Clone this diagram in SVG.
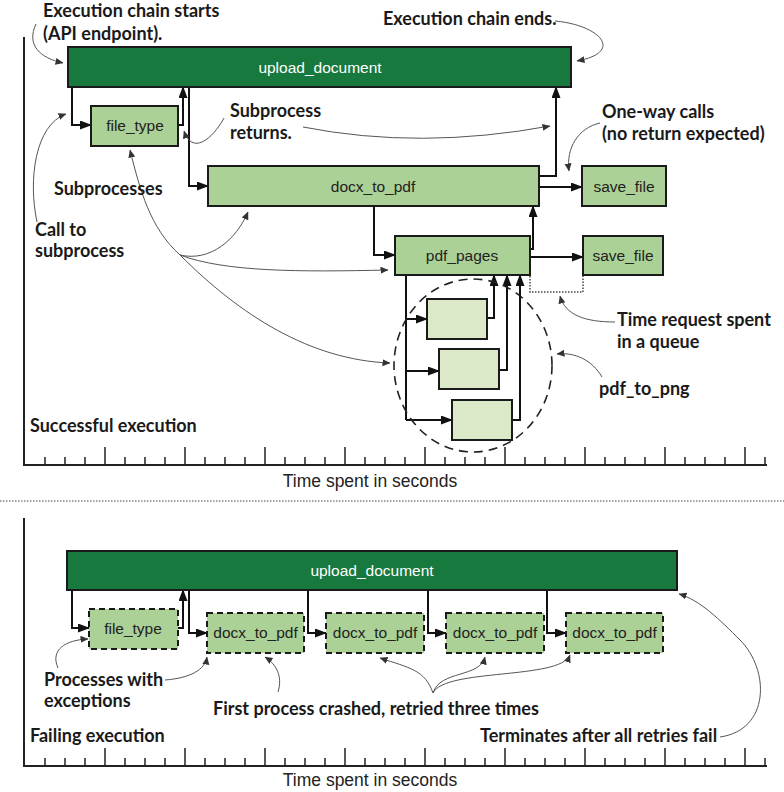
<svg xmlns="http://www.w3.org/2000/svg" xmlns:xlink="http://www.w3.org/1999/xlink" width="784" height="792" viewBox="0 0 784 792">
<style>
.dark{fill:#17793d;stroke:#1a1a1a;stroke-width:2}
.mid{fill:#acd196;stroke:#1a1a1a;stroke-width:2}
.light{fill:#dce9c9;stroke:#1a1a1a;stroke-width:2}
.dash{stroke-dasharray:6 4}
.lbl{font-family:"Liberation Sans",Arial,sans-serif;font-size:15.5px;fill:#222;text-anchor:middle}
.wlbl{font-family:"Liberation Sans",Arial,sans-serif;font-size:15.5px;fill:#fff;text-anchor:middle}
.ann{font-family:Lato,"Open Sans",sans-serif;font-weight:bold;font-size:18px;fill:#1a1a1a}
.axt{font-family:"Liberation Sans",Arial,sans-serif;font-size:17.5px;fill:#222;text-anchor:middle}
.con{fill:none;stroke:#111;stroke-width:2;marker-end:url(#arr)}
.line{fill:none;stroke:#111;stroke-width:2}
.note{fill:none;stroke:#555;stroke-width:1;marker-end:url(#arrs)}
.axis{fill:none;stroke:#222;stroke-width:2}
</style>
<defs>
<marker id="arr" markerUnits="userSpaceOnUse" markerWidth="12" markerHeight="10" refX="11" refY="4.5" orient="auto"><path d="M0,0 L12,4.5 L0,9 z" fill="#111"/></marker>
<marker id="arrs" markerUnits="userSpaceOnUse" markerWidth="8" markerHeight="8" refX="7.5" refY="3.5" orient="auto"><path d="M0,0 L8,3.5 L0,7 z" fill="#333"/></marker>
<path id="ticks" fill="none" stroke="#222" stroke-width="1.5" d="M45,0v-8M65,0v-8M85,0v-8M125,0v-8M145,0v-8M165,0v-8M205,0v-8M225,0v-8M245,0v-8M285,0v-8M305,0v-8M325,0v-8M365,0v-8M385,0v-8M405,0v-8M445,0v-8M465,0v-8M485,0v-8M525,0v-8M545,0v-8M565,0v-8M605,0v-8M625,0v-8M645,0v-8M685,0v-8M705,0v-8M725,0v-8M765,0v-8M105,0v-18M185,0v-18M265,0v-18M345,0v-18M425,0v-18M505,0v-18M585,0v-18M665,0v-18M745,0v-18"/>
</defs>
<rect width="784" height="792" fill="#fff"/>

<g id="axes">
<path class="axis" d="M24,37 V465 H767"/>
<use xlink:href="#ticks" transform="translate(0,465)"/>
<text class="axt" x="370" y="487">Time spent in seconds</text>
<line x1="0" y1="501" x2="784" y2="501" stroke="#444" stroke-width="1.2" stroke-dasharray="1.5 1.5"/>
<path class="axis" d="M24,518 V766 H767"/>
<use xlink:href="#ticks" transform="translate(0,766)"/>
<text class="axt" x="370" y="786">Time spent in seconds</text>
</g>

<g id="connectors">
<path class="con" d="M72,87 V125 H91"/>
<path class="con" d="M178,125 H183 V87"/>
<path class="con" d="M189,87 V186 H208"/>
<path class="con" d="M539,176 H556 V87"/>
<path class="con" d="M539,187 H582"/>
<path class="con" d="M374,206 V255 H395"/>
<path class="con" d="M530,249 H533 V206"/>
<path class="con" d="M530,257 H583"/>
<path d="M530,276 V292 H583 V276" fill="none" stroke="#444" stroke-width="1.5" stroke-dasharray="1.5 1.5"/>
<path class="line" d="M406,275 V420"/>
<path class="con" d="M406,319 H427"/>
<path class="con" d="M406,371 H439"/>
<path class="con" d="M406,420 H452"/>
<path class="con" d="M487,318 H494 V275"/>
<path class="con" d="M499,370 H507 V275"/>
<path class="con" d="M512,420 H520 V275"/>
<path class="con" d="M72,590 V628 H89"/>
<path class="con" d="M178,628 H183 V590"/>
<path class="con" d="M189,590 V633 H207"/>
<path class="con" d="M308,590 V633 H326"/>
<path class="con" d="M428,590 V633 H446"/>
<path class="con" d="M547,590 V633 H566"/>
</g>

<g id="upload_document_top"><rect class="dark" x="68" y="47" width="503" height="40"/><text class="wlbl" x="320" y="73">upload_document</text></g>
<g id="file_type_top"><rect class="mid" x="91" y="106" width="87" height="40"/><text class="lbl" x="135" y="131">file_type</text></g>
<g id="docx_to_pdf_top"><rect class="mid" x="208" y="166" width="331" height="40"/><text class="lbl" x="373" y="192">docx_to_pdf</text></g>
<g id="save_file_1"><rect class="mid" x="582" y="166" width="84" height="40"/><text class="lbl" x="624" y="192">save_file</text></g>
<g id="pdf_pages"><rect class="mid" x="395" y="236" width="135" height="39"/><text class="lbl" x="462" y="261">pdf_pages</text></g>
<g id="save_file_2"><rect class="mid" x="583" y="236" width="80" height="39"/><text class="lbl" x="623" y="261">save_file</text></g>
<g id="pdf_to_png_1"><rect class="light" x="427" y="299" width="60" height="40"/></g>
<g id="pdf_to_png_2"><rect class="light" x="439" y="349" width="60" height="40"/></g>
<g id="pdf_to_png_3"><rect class="light" x="452" y="400" width="60" height="40"/></g>
<g id="pdf_to_png_group"><ellipse cx="473" cy="365.5" rx="79" ry="86.5" fill="none" stroke="#222" stroke-width="1.6" stroke-dasharray="9 6"/></g>

<g id="upload_document_bottom"><rect class="dark" x="67" y="551" width="610" height="39"/><text class="wlbl" x="372" y="576">upload_document</text></g>
<g id="file_type_bottom"><rect class="mid dash" x="89" y="609" width="89" height="40"/><text class="lbl" x="133" y="634">file_type</text></g>
<g id="docx_to_pdf_1"><rect class="mid dash" x="207" y="613" width="97" height="40"/><text class="lbl" x="255.5" y="638">docx_to_pdf</text></g>
<g id="docx_to_pdf_2"><rect class="mid dash" x="326" y="613" width="98" height="40"/><text class="lbl" x="375" y="638">docx_to_pdf</text></g>
<g id="docx_to_pdf_3"><rect class="mid dash" x="446" y="613" width="98" height="40"/><text class="lbl" x="495" y="638">docx_to_pdf</text></g>
<g id="docx_to_pdf_4"><rect class="mid dash" x="566" y="613" width="97" height="40"/><text class="lbl" x="614.5" y="638">docx_to_pdf</text></g>

<g id="annotations">
<path class="note" d="M36,24 C26,45 40,58 63,63"/>
<path class="note" d="M555,21 C600,25 625,52 577,61"/>
<path class="note" d="M224,118 C212,140 192,155 184,131"/>
<path class="note" d="M303,127 Q420,150 550,126"/>
<path class="note" d="M600,123 C578,128 566,148 569,171"/>
<path class="note" d="M37,222 C28,180 35,125 66,114"/>
<path class="note" d="M180,255 C150,228 140,190 130,150"/>
<path class="note" d="M180,255 C210,262 236,240 248,212"/>
<path class="note" d="M180,255 C225,272 300,272 388,270"/>
<path class="note" d="M180,255 C240,315 310,360 390,363"/>
<path class="note" d="M615,322 C585,322 565,315 560,296"/>
<path class="note" d="M602,377 C592,360 575,352 557,354"/>
<path class="note" d="M58,668 C50,650 65,640 88,639"/>
<path class="note" d="M165,680 C190,678 205,670 207,657"/>
<path class="note" d="M278,692 C283,676 276,664 265,657"/>
<path class="note" d="M433,693 C425,670 410,668 380,658"/>
<path class="note" d="M433,693 C440,670 480,678 485,657"/>
<path class="note" d="M433,693 C445,668 560,680 570,655"/>
<path class="note" d="M720,737 C770,730 770,670 740,640 C720,620 700,600 679,594"/>
<text class="ann" x="43" y="17">Execution chain starts</text>
<text class="ann" x="43" y="40">(API endpoint).</text>
<text class="ann" x="383" y="25">Execution chain ends.</text>
<text class="ann" x="230" y="117">Subprocess</text>
<text class="ann" x="230" y="139">returns.</text>
<text class="ann" x="602" y="118">One-way calls</text>
<text class="ann" x="602" y="140">(no return expected)</text>
<text class="ann" x="54" y="195">Subprocesses</text>
<text class="ann" x="35" y="236">Call to</text>
<text class="ann" x="35" y="257">subprocess</text>
<text class="ann" x="617" y="326">Time request spent</text>
<text class="ann" x="617" y="348">in a queue</text>
<text class="ann" x="599" y="395">pdf_to_png</text>
<text class="ann" x="30" y="432">Successful execution</text>
<text class="ann" x="44" y="686">Processes with</text>
<text class="ann" x="44" y="707">exceptions</text>
<text class="ann" x="213" y="715">First process crashed, retried three times</text>
<text class="ann" x="480" y="742">Terminates after all retries fail</text>
<text class="ann" x="30" y="742">Failing execution</text>
</g>
</svg>
